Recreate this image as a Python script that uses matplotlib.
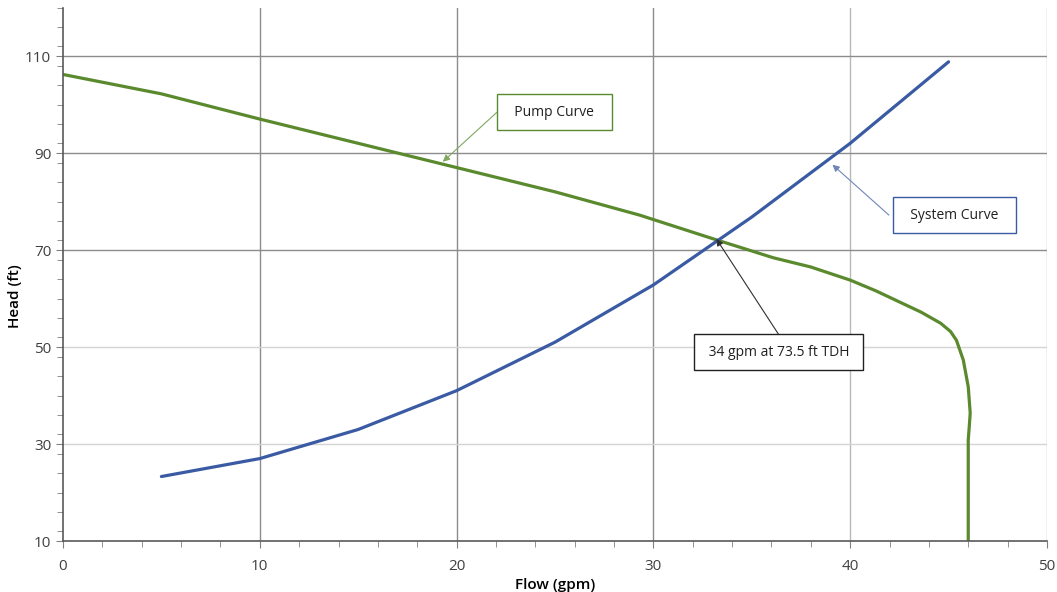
import matplotlib.pyplot as plt
from matplotlib.ticker import MultipleLocator

plt.rcParams['font.family'] = ['Open Sans', 'DejaVu Sans']

# pump curve
pump_flow = [0, 5, 10, 15, 20, 25, 29.3, 33.2, 36.1, 38, 40, 41.3, 42.5, 43.6,
             44.6, 45.1, 45.4, 45.75, 46.0, 46.1, 46.05, 46.0, 46.0]
pump_head = [106.2, 102.2, 97, 92, 87, 82, 77.2, 72.1, 68.4, 66.5, 63.8, 61.6, 59.3, 57.2,
             54.9, 53.2, 51.4, 47.3, 41.8, 36.4, 33.5, 30.8, 10]

# system curve
sys_flow = [5, 10, 15, 20, 25, 30, 35, 40, 45]
sys_head = [23.3, 27, 33, 41, 51, 62.8, 76.8, 92, 108.8]

x_ticks = [0, 10, 20, 30, 40, 50]
y_ticks = [10, 30, 50, 70, 90, 110]

# callouts: label, box centre, arrow start, arrow tip
notes = [
    ('  Pump Curve  ', (24.97, 98.4), (22.05, 98.4), (19.3, 88.2), '#5b8a2e', '#7fa860'),
    ('  System Curve  ', (45.3, 77.2), (41.97, 77.2), (39.1, 87.6), '#3a5ba3', '#6f86b8'),
    (' 34 gpm at 73.5 ft TDH ', (36.38, 48.9), (36.38, 52.5), (33.2, 72.3), '#202020', '#303030'),
]

fig = plt.figure(figsize=(10.57, 5.92), dpi=100)
ax = fig.add_axes([0.0596, 0.0861, 0.9309, 0.9012])

# grid lines, drawn by hand so some can be lighter like the original
for x in x_ticks[1:]:
    ax.axvline(x, color='#b8b8b8' if x >= 40 else '#8c8c8c', lw=1, zorder=0)
for y in y_ticks[1:]:
    ax.axhline(y, color='#d4d4d4' if y <= 50 else '#8c8c8c', lw=1, zorder=0)

ax.plot(pump_flow, pump_head, color='#5b8a2e', lw=2.3, solid_capstyle='round',
        solid_joinstyle='round')
ax.plot(sys_flow, sys_head, color='#3a5ba3', lw=2.3, solid_capstyle='round',
        solid_joinstyle='round')

ax.set_xlim(0, 50)
ax.set_ylim(10, 120)
ax.set_xticks(x_ticks)
ax.set_yticks(y_ticks)
ax.xaxis.set_minor_locator(MultipleLocator(2))
ax.yaxis.set_minor_locator(MultipleLocator(4))
ax.tick_params(which='both', direction='out', color='#808080', labelsize=11,
               labelcolor='#404040')
ax.tick_params(which='major', length=5)
ax.tick_params(which='minor', length=4)
ax.tick_params(axis='x', pad=8)
for s in ['top', 'right']:
    ax.spines[s].set_visible(False)
for s in ['left', 'bottom']:
    ax.spines[s].set_color('#595959')
    ax.spines[s].set_linewidth(1.2)

ax.set_xlabel('Flow (gpm)', fontsize=11, fontweight='semibold', labelpad=3)
ax.set_ylabel('Head (ft)', fontsize=11, fontweight='semibold')
ax.yaxis.set_label_coords(-0.042, 0.459)

for label, centre, start, tip, edge, arrow in notes:
    ax.text(*centre, label, fontsize=10, ha='center', va='center', color='#202020',
            bbox=dict(boxstyle='square,pad=0.75', fc='white', ec=edge, lw=1), zorder=5)
    ax.annotate('', xy=tip, xytext=start,
                arrowprops=dict(arrowstyle='-|>', color=arrow, lw=0.8,
                                shrinkA=0, shrinkB=0, mutation_scale=10), zorder=4)

fig.savefig('out.png', dpi=100)
